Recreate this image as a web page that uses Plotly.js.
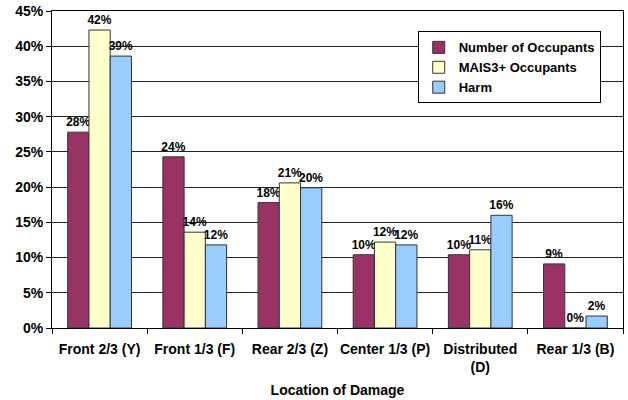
<!DOCTYPE html>
<html>
<head>
<meta charset="utf-8">
<script src="https://cdn.plot.ly/plotly-3.0.1.min.js"></script>
<style>html,body{margin:0;padding:0;background:#fff;}#chart{width:628px;height:400px;}</style>
</head>
<body>
<div id="chart"></div>
<script>
const categories = ["Front 2/3 (Y)", "Front 1/3 (F)", "Rear 2/3 (Z)", "Center 1/3 (P)", "Distributed<br>(D)", "Rear 1/3 (B)"];
const occupants = [27.8, 24.3, 17.8, 10.4, 10.4, 9.1];
const mais3 = [42.3, 13.6, 20.6, 12.2, 11.1, 0.0];
const harm = [38.6, 11.8, 19.9, 11.8, 16.0, 1.7];
const seriesNames = ["Number of Occupants", "MAIS3+ Occupants", "Harm"];
const colors = ["#993366", "#FFFFCC", "#99CCFF"];
const fontFam = "Liberation Sans, Arial, sans-serif";

function mk(vals, i) {
  return {
    type: "bar", x: categories, y: vals, name: seriesNames[i],
    marker: {color: colors[i], line: {color: "#333", width: 1}},
    text: vals.map(v => Math.round(v) + "%"),
    textposition: "outside", cliponaxis: false, constraintext: "none",
    textfont: {family: fontFam, size: 12, color: "#000", weight: "bold"},
    hoverinfo: "skip"
  };
}
const data = [mk(occupants, 0), mk(mais3, 1), mk(harm, 2)];
const layout = {
  width: 628, height: 400,
  margin: {l: 52, r: 5, t: 11, b: 72, autoexpand: false},
  paper_bgcolor: "#fff", plot_bgcolor: "#fff",
  barmode: "group", bargap: 0.33, bargroupgap: 0,
  font: {family: fontFam, size: 14, color: "#000", weight: "bold"},
  showlegend: true,
  legend: {x: 0.961, y: 0.822, xanchor: "right", yanchor: "middle",
    bordercolor: "#000", borderwidth: 1, bgcolor: "#fff",
    font: {family: fontFam, size: 13, color: "#000", weight: "bold"},
    tracegroupgap: 0, itemwidth: 30},
  xaxis: {
    type: "category", showline: true, linecolor: "#000", linewidth: 1, mirror: true,
    ticks: "outside", tickson: "boundaries", ticklen: 5, tickcolor: "#000",
    tickangle: 0, ticklabelstandoff: 8, automargin: false,
    tickfont: {family: fontFam, size: 14, color: "#000", weight: "bold"},
    title: {text: "Location of Damage", standoff: 11, font: {family: fontFam, size: 14, color: "#000", weight: "bold"}}
  },
  yaxis: {
    range: [0, 45], dtick: 5, ticksuffix: "%", automargin: false,
    showline: true, linecolor: "#000", linewidth: 1, mirror: true,
    ticks: "outside", ticklen: 5, tickcolor: "#000",
    showgrid: true, gridcolor: "#222", gridwidth: 1, zeroline: false,
    tickfont: {family: fontFam, size: 14, color: "#000", weight: "bold"}
  }
};
Plotly.newPlot("chart", data, layout, {displayModeBar: false, staticPlot: true});
</script>
</body>
</html>
